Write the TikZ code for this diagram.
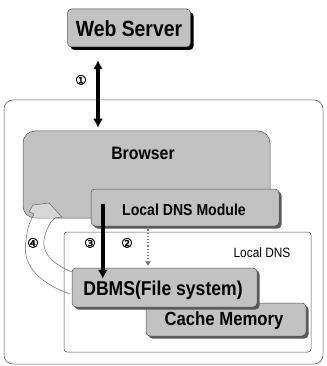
\documentclass[tikz,border=0pt]{standalone}
\usepackage{fontspec}
\setmainfont{Liberation Sans}
\newfontfamily\boxfont[FakeStretch=0.88]{Liberation Sans}
\newfontfamily\numfont[FakeBold=1.5]{DejaVu Sans}
\usetikzlibrary{calc,shadows,arrows.meta}

\begin{document}
\begin{tikzpicture}[x=1pt, y=-1pt,
	graybox/.style={draw=black!70, fill=black!24, rounded corners=4pt, line width=0.5pt, inner sep=0pt},
	shade/.style={drop shadow={shadow xshift=2.5pt, shadow yshift=-2.5pt, fill=black!65, opacity=1}},
	boxtext/.style={font=\boxfont\bfseries, inner sep=0pt},
	thinbox/.style={draw=black!70, line width=0.5pt, rounded corners=#1},
	bigarrow/.style={line width=3.5pt, -{Latex[length=9pt, width=10pt]}},
	num/.style={font=\numfont\fontsize{13}{13}\selectfont, inner sep=0pt}]
			%%%%% START %%%%%
			\useasboundingbox (0, 0) rectangle (326, 366);
			
			\node[graybox, drop shadow={shadow xshift=3pt, shadow yshift=-3pt, fill=black, opacity=1}, minimum width=123pt, minimum height=38pt] (web) at (129, 28) {};
			\node[boxtext, font=\boxfont\bfseries\fontsize{22}{22}\selectfont] (webtext) at (129, 29) {Web Server};
			
			\draw[thinbox=9pt] (4, 100) rectangle (323, 364);
			
			\node[graybox, rounded corners=12pt, minimum width=247pt, minimum height=87pt] (browser) at (146.5, 174.5) {};
			\node[boxtext, font=\boxfont\bfseries\fontsize{18}{18}\selectfont] (browsertext) at (143, 153) {Browser};
			
			\coordinate (a1) at (98, 0);
			\draw[line width=3.5pt, {Latex[length=9pt, width=10pt]}-{Latex[length=9pt, width=10pt]}] ($(web.south -| a1)+(0, 13)$) -- ($(browser.north -| a1)+(0, -3)$);
			\node[num] (n1) at (81, 80) {①};
			
			% returned answer
			\draw[black!60, line width=0.5pt, fill=white, fill opacity=0.35] (70, 294) .. controls (34, 281) and (22, 262) .. (26, 240) .. controls (28, 226) .. (34, 214) -- (29, 212) -- (33, 205) -- (49, 203) -- (62, 217) -- (55, 218) -- (51, 222) .. controls (40, 240) and (38, 258) .. (72, 272);
			\node[num] (n4) at (33, 243) {④};
			
			\node[graybox, shade, minimum width=188pt, minimum height=37pt] (ldm) at (185, 207.5) {};
			\node[boxtext, font=\boxfont\bfseries\fontsize{16}{16}\selectfont] (ldmtext) at (184, 210) {Local DNS Module};
			
			\node[thinbox=3pt, minimum width=247pt, minimum height=120pt, inner sep=0pt] (localdns) at (187.5, 292) {};
			\node[font=\boxfont\fontsize{13.5}{13.5}\selectfont, inner sep=0pt] (localdnstext) at (262, 253) {Local DNS};
			
			\node[graybox, shade, minimum width=160pt, minimum height=33pt] (cache) at (226, 319.5) {};
			\node[boxtext, font=\boxfont\bfseries\fontsize{19}{19}\selectfont] (cachetext) at (224, 321) {Cache Memory};
			
			\node[graybox, shade, minimum width=185pt, minimum height=39pt] (dbms) at (164.5, 287.5) {};
			\node[boxtext, font=\boxfont\bfseries\fontsize{20}{20}\selectfont] (dbmstext) at (163, 290) {DBMS(File system)};
			
			\coordinate (a2) at (148, 0);
			\draw[black!55, line width=1.2pt, dotted, -{Stealth[length=5pt, width=6pt]}] (ldm.south -| a2) -- ($(dbms.north -| a2)+(0, -2)$);
			\node[num] (n2) at (127, 243) {②};
			
			\draw[bigarrow] ($(ldm.west)+(12, -4)$) -- ($(ldm.west |- dbms.north)+(12, 11)$);
			\node[num] (n3) at (90, 243) {③};
			%%%%% END %%%%%
\end{tikzpicture}
\end{document}
